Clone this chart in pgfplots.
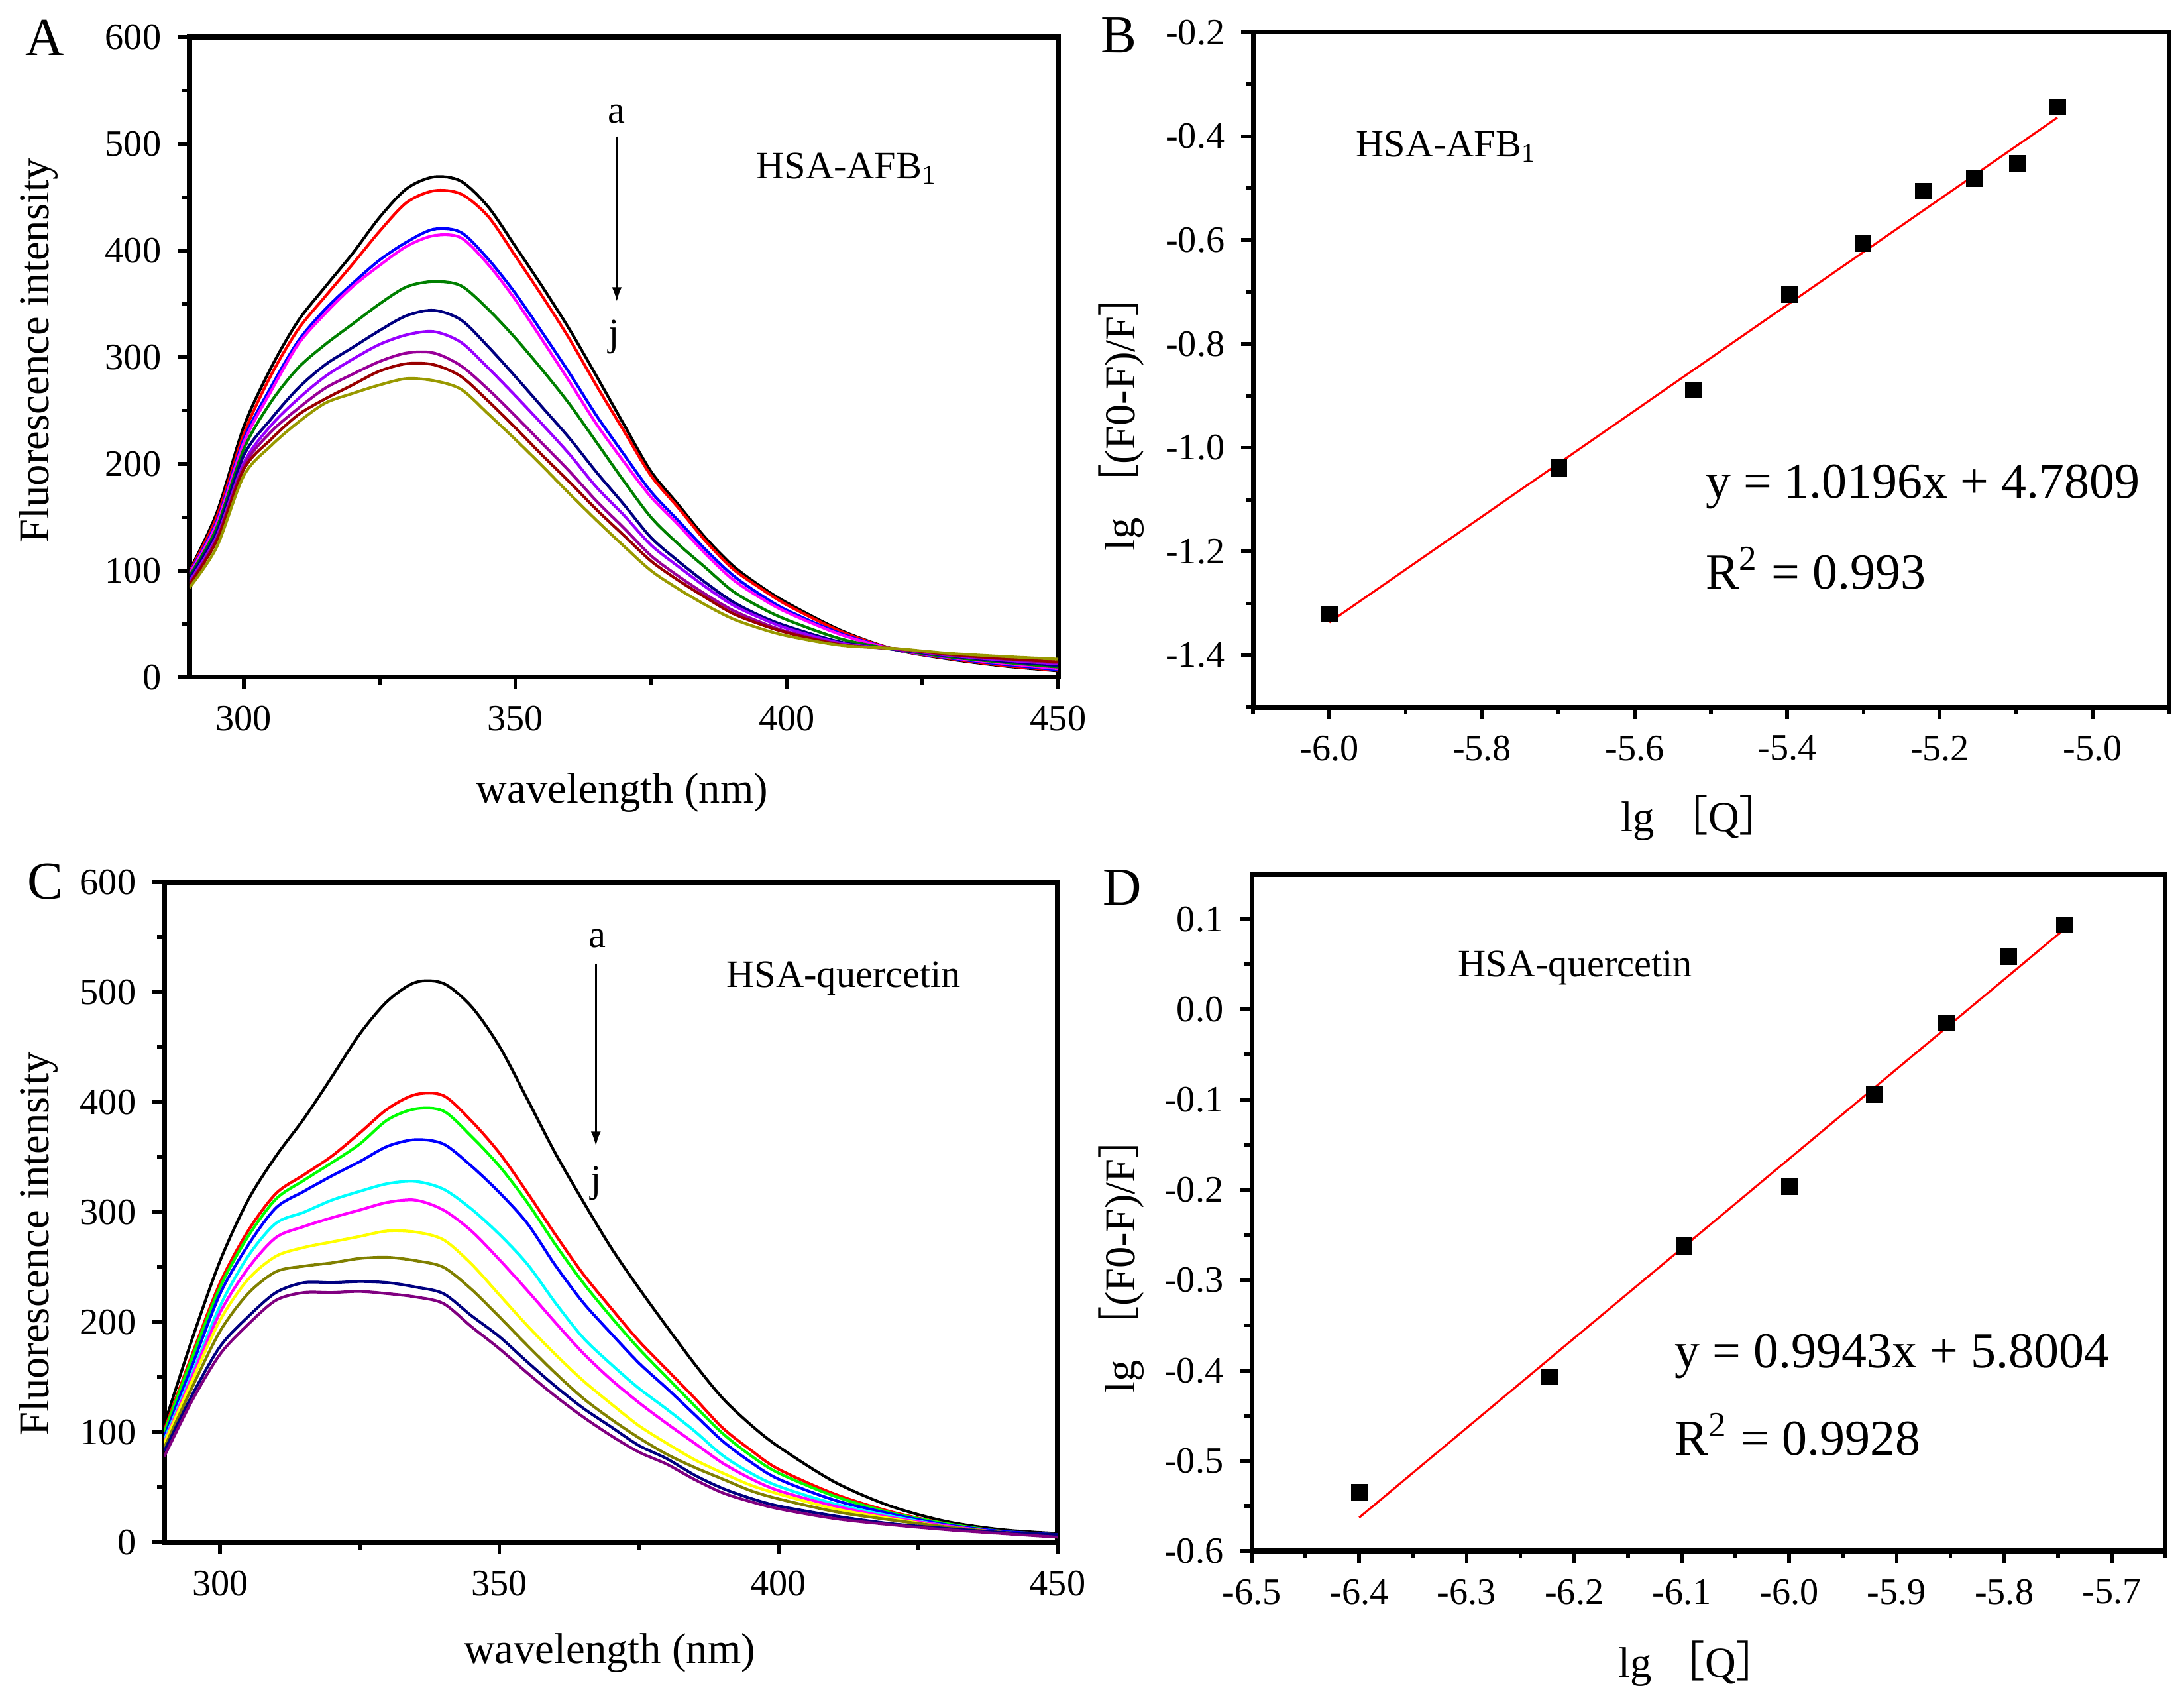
\documentclass[border=0pt]{standalone}
\usepackage{pgfplots}
\pgfplotsset{compat=1.18}
\usepackage{pgfplotstable}
\usepackage{fontspec}
\setmainfont{Liberation Serif}
\newfontfamily\cjk{Noto Sans CJK SC}
\usetikzlibrary{arrows.meta}

\definecolor{cvio}{RGB}{153,0,255}
\definecolor{cpur}{RGB}{153,0,153}
\definecolor{cdred}{RGB}{153,0,0}
\definecolor{colA}{RGB}{153,153,0}
\definecolor{cgreen}{RGB}{0,128,0}
\definecolor{cnavy}{RGB}{0,0,128}
\definecolor{colC}{RGB}{128,128,0}
\definecolor{cpurC}{RGB}{128,0,128}
\definecolor{cred}{RGB}{255,0,0}
\definecolor{cblue}{RGB}{0,0,255}
\definecolor{cmag}{RGB}{255,0,255}
\definecolor{ccyan}{RGB}{0,255,255}
\definecolor{cyel}{RGB}{255,255,0}
\definecolor{clime}{RGB}{0,255,0}

\newcommand{\tl}[1]{\textrm{#1}}

\pgfplotstableread{
nm a b c d e f g h i j
290 100 99 98 97 95 93 90 88 87 84
295 154 150 146 144 140 136 132 130 128 122
300 235 228 223 220 214 208 201 198 195 189
305 290 283 272 268 258 242 236 230 223 217
310 334 326 315 312 290 271 261 252 246 239
315 366 357 345 341 312 293 282 271 261 257
320 397 387 369 366 331 309 298 284 274 266
325 431 418 391 386 350 325 312 296 287 274
330 458 445 408 404 366 339 321 304 294 280
335 469 456 420 414 371 344 324 304 293 278
340 465 453 417 412 367 335 314 292 282 270
345 441 432 392 387 345 310 290 270 259 247
350 404 395 360 354 318 282 264 245 234 223
355 366 357 323 316 288 253 237 219 208 198
360 326 317 285 277 256 224 209 193 183 172
365 282 273 245 237 220 192 178 165 157 147
370 237 231 209 202 184 162 152 140 133 123
375 193 189 174 169 150 131 124 114 109 100
380 162 159 147 143 125 109 104 95 91 83
385 131 128 120 116 103 89 85 78 75 68
390 105 102 96 92 81 71 68 63 60 55
395 86 84 78 75 66 58 56 52 50 46
400 70 68 63 61 54 48 46 43 42 39
410 44 43 41 40 36 33 32 31 30.5 30
420 26 26 26 26 26 26 26.5 26.5 27 27
430 17 17.5 18 18.5 19 20 20.5 21 21.5 22.5
440 10.5 11 12 13 14 15 16 17 17.5 19.5
450 6 6.5 7 8 9.5 11 12.5 13.5 14.5 17
}\tA

\pgfplotstableread{
nm a b c d e f g h i j
290 107 102 100 96 93 91 90 86 83 78
295 185 171 168 161 154 151 147 141 134 129
300 256 236 232 226 215 209 202 192 178 171
305 311 283 278 270 260 249 239 226 205 198
310 351 317 312 304 290 277 260 246 227 220
315 385 334 329 319 300 287 268 251 236 227
320 423 351 345 333 311 295 273 254 236 227
325 462 372 362 346 319 302 278 258 237 228
330 492 394 384 360 326 309 283 259 236 226
335 509 407 394 366 328 311 282 256 232 223
340 508 406 392 362 321 302 275 250 226 217
345 487 383 369 342 303 283 253 230 206 196
350 451 354 342 318 280 257 225 205 187 176
355 403 318 309 290 253 229 197 179 164 154
360 354 280 271 252 218 200 171 154 142 133
365 310 244 236 218 186 172 147 131 122 114
370 268 213 205 190 162 148 126 112 105 97
375 231 183 176 163 140 127 106 95 88 82
380 196 157 150 140 121 108 90 80 76 71
385 162 131 124 116 101 90 75 68 61 57
390 131 104 99 92 79 72 63 57.5 49 45
395 107 84 79 73 63 58 52 47 40 37
400 87 66.5 63 57.5 51 47 44 39.5 33 30.5
410 55 44 42 38.4 35 33 30.5 28 24 21.6
420 33 28 27 26 24 22.7 21.6 20.4 17 16
430 19 17 17 16 15 15 14 14 12.6 11.5
440 11.5 10 10 10 9 9 9 9 9 8
450 8 7 7 7 6 6 6 6 7 4.7
}\tC

\pgfplotstableread{
x y
-6.000 -1.321
-5.699 -1.039
-5.523 -0.889
-5.397 -0.705
-5.301 -0.606
-5.222 -0.506
-5.155 -0.481
-5.098 -0.453
-5.046 -0.344
}\tB

\pgfplotstableread{
x y
-6.400 -0.535
-6.223 -0.407
-6.098 -0.262
-6.000 -0.196
-5.921 -0.094
-5.854 -0.015
-5.796 0.059
-5.744 0.094
}\tD

\pgfplotsset{
  panel/.style={
    scale only axis,
    axis line style={line width=1pt},
    tick align=outside, tick pos=left,
    major tick length=0.09cm, minor tick length=0.055cm,
    every tick/.append style={black, line width=0.8pt},
    ticklabel style={font=\rmfamily\fontsize{8}{9}\selectfont},
    label style={font=\rmfamily\fontsize{9.2}{11}\selectfont},
  },
  spec/.style={line width=0.6pt, smooth, no markers},
}

\begin{document}
\begin{tikzpicture}
\path[use as bounding box] (0,0) rectangle (16.48cm,-12.855cm);

% ---------------- Panel A ----------------
\begin{axis}[panel,
  at={(1.43cm,-5.11cm)}, anchor=south west,
  width=6.555cm, height=4.83cm,
  xmin=290, xmax=450, ymin=0, ymax=600,
  xtick={300,350,400,450}, xticklabels={\tl{300},\tl{350},\tl{400},\tl{450}},
  minor xtick={325,375,425},
  ytick={0,100,200,300,400,500,600}, yticklabels={\tl{0},\tl{100},\tl{200},\tl{300},\tl{400},\tl{500},\tl{600}},
  minor ytick={50,150,250,350,450,550},
  xlabel={wavelength (nm)}, ylabel={Fluorescence intensity},
  xlabel style={at={(axis description cs:0.498,-0.180)}, anchor=center},
  ylabel style={at={(axis description cs:-0.174,0.510)}, anchor=center},
]
\addplot[spec, black] table[x=nm,y=a]{\tA};
\addplot[spec, cred] table[x=nm,y=b]{\tA};
\addplot[spec, cblue] table[x=nm,y=c]{\tA};
\addplot[spec, cmag] table[x=nm,y=d]{\tA};
\addplot[spec, cgreen] table[x=nm,y=e]{\tA};
\addplot[spec, cnavy] table[x=nm,y=f]{\tA};
\addplot[spec, cvio] table[x=nm,y=g]{\tA};
\addplot[spec, cpur] table[x=nm,y=h]{\tA};
\addplot[spec, cdred] table[x=nm,y=i]{\tA};
\addplot[spec, colA] table[x=nm,y=j]{\tA};
\draw[line width=0.45pt, -{Latex[length=0.11cm,width=0.075cm]}] (axis cs:368.7,507) -- (axis cs:368.7,352);
\node[font=\fontsize{8.3}{10}\selectfont] at (axis cs:368.7,528) {a};
\node[font=\fontsize{8.3}{10}\selectfont] at (axis cs:368.2,319) {j};
\node[font=\fontsize{8.3}{10}\selectfont] at (axis cs:411.1,477) {HSA-AFB\textsubscript{1}};
\end{axis}

% ---------------- Panel B ----------------
\begin{axis}[panel,
  at={(9.455cm,-5.335cm)}, anchor=south west,
  width=6.91cm, height=5.09cm,
  xmin=-6.1, xmax=-4.9, ymin=-1.5, ymax=-0.2,
  xtick={-6.0,-5.8,-5.6,-5.4,-5.2,-5.0},
  xticklabels={\tl{-6.0},\tl{-5.8},\tl{-5.6},\tl{-5.4},\tl{-5.2},\tl{-5.0}},
  minor xtick={-6.1,-5.9,-5.7,-5.5,-5.3,-5.1,-4.9},
  ytick={-1.4,-1.2,-1.0,-0.8,-0.6,-0.4,-0.2},
  yticklabels={\tl{-1.4},\tl{-1.2},\tl{-1.0},\tl{-0.8},\tl{-0.6},\tl{-0.4},\tl{-0.2}},
  minor ytick={-1.5,-1.3,-1.1,-0.9,-0.7,-0.5,-0.3},
  xlabel={lg {\cjk ［}Q{\cjk ］}}, ylabel={lg {\cjk ［}(F0-F)/F{\cjk ］}},
  xlabel style={at={(axis description cs:0.490,-0.164)}, anchor=center},
  ylabel style={at={(axis description cs:-0.144,0.437)}, anchor=center},
]
\addplot[cred, line width=0.45pt, no markers] coordinates {(-6.0,-1.3367) (-5.046,-0.3640)};
\addplot[only marks, mark=square*, mark size=1.6pt, black] table[x=x,y=y]{\tB};
\node[font=\fontsize{8.3}{10}\selectfont] at (axis cs:-5.846,-0.420) {HSA-AFB\textsubscript{1}};
\node[font=\fontsize{10.8}{13}\selectfont, anchor=west, inner sep=0pt] at (axis cs:-5.508,-1.075) {y = 1.0196x + 4.7809};
\node[font=\fontsize{10.8}{13}\selectfont, anchor=west, inner sep=0pt] at (axis cs:-5.508,-1.232) {R\textsuperscript{2} = 0.993};
\end{axis}

% ---------------- Panel C ----------------
\begin{axis}[panel,
  at={(1.24cm,-11.635cm)}, anchor=south west,
  width=6.74cm, height=4.98cm,
  xmin=290, xmax=450, ymin=0, ymax=600,
  xtick={300,350,400,450}, xticklabels={\tl{300},\tl{350},\tl{400},\tl{450}},
  minor xtick={325,375,425},
  ytick={0,100,200,300,400,500,600}, yticklabels={\tl{0},\tl{100},\tl{200},\tl{300},\tl{400},\tl{500},\tl{600}},
  minor ytick={50,150,250,350,450,550},
  xlabel={wavelength (nm)}, ylabel={Fluorescence intensity},
  xlabel style={at={(axis description cs:0.4985,-0.168)}, anchor=center},
  ylabel style={at={(axis description cs:-0.141,0.452)}, anchor=center},
]
\addplot[spec, black] table[x=nm,y=a]{\tC};
\addplot[spec, cred] table[x=nm,y=b]{\tC};
\addplot[spec, clime] table[x=nm,y=c]{\tC};
\addplot[spec, cblue] table[x=nm,y=d]{\tC};
\addplot[spec, ccyan] table[x=nm,y=e]{\tC};
\addplot[spec, cmag] table[x=nm,y=f]{\tC};
\addplot[spec, cyel] table[x=nm,y=g]{\tC};
\addplot[spec, colC] table[x=nm,y=h]{\tC};
\addplot[spec, cnavy] table[x=nm,y=i]{\tC};
\addplot[spec, cpurC] table[x=nm,y=j]{\tC};
\draw[line width=0.45pt, -{Latex[length=0.11cm,width=0.075cm]}] (axis cs:367.3,526) -- (axis cs:367.3,360);
\node[font=\fontsize{8.3}{10}\selectfont] at (axis cs:367.6,549) {a};
\node[font=\fontsize{8.3}{10}\selectfont] at (axis cs:367.3,326) {j};
\node[font=\fontsize{8.3}{10}\selectfont] at (axis cs:411.7,512.6) {HSA-quercetin};
\end{axis}

% ---------------- Panel D ----------------
\begin{axis}[panel,
  at={(9.445cm,-11.70cm)}, anchor=south west,
  width=6.895cm, height=5.105cm,
  xmin=-6.5, xmax=-5.65, ymin=-0.6, ymax=0.15,
  xtick={-6.5,-6.4,-6.3,-6.2,-6.1,-6.0,-5.9,-5.8,-5.7},
  xticklabels={\tl{-6.5},\tl{-6.4},\tl{-6.3},\tl{-6.2},\tl{-6.1},\tl{-6.0},\tl{-5.9},\tl{-5.8},\tl{-5.7}},
  minor xtick={-6.45,-6.35,-6.25,-6.15,-6.05,-5.95,-5.85,-5.75,-5.65},
  ytick={-0.6,-0.5,-0.4,-0.3,-0.2,-0.1,0.0,0.1},
  yticklabels={\tl{-0.6},\tl{-0.5},\tl{-0.4},\tl{-0.3},\tl{-0.2},\tl{-0.1},\tl{0.0},\tl{0.1}},
  minor ytick={-0.55,-0.45,-0.35,-0.25,-0.15,-0.05,0.05},
  xlabel={lg {\cjk ［}Q{\cjk ］}}, ylabel={lg {\cjk ［}(F0-F)/F{\cjk ］}},
  xlabel style={at={(axis description cs:0.489,-0.167)}, anchor=center},
  ylabel style={at={(axis description cs:-0.143,0.438)}, anchor=center},
]
\addplot[cred, line width=0.45pt, no markers] coordinates {(-6.4,-0.5631) (-5.744,0.0891)};
\addplot[only marks, mark=square*, mark size=1.6pt, black] table[x=x,y=y]{\tD};
\node[font=\fontsize{8.3}{10}\selectfont] at (axis cs:-6.199,0.046) {HSA-quercetin};
\node[font=\fontsize{10.8}{13}\selectfont, anchor=west, inner sep=0pt] at (axis cs:-6.107,-0.384) {y = 0.9943x + 5.8004};
\node[font=\fontsize{10.8}{13}\selectfont, anchor=west, inner sep=0pt] at (axis cs:-6.107,-0.471) {R\textsuperscript{2} = 0.9928};
\end{axis}

% ---------------- Panel letters ----------------
\begin{scope}[x=0.005cm,y=-0.005cm, every node/.style={font=\fontsize{11.5}{13}\selectfont}]
\node at (68,57) {A};
\node at (1687,53) {B};
\node at (68,1329) {C};
\node at (1692,1338) {D};
\end{scope}
\end{tikzpicture}
\end{document}
